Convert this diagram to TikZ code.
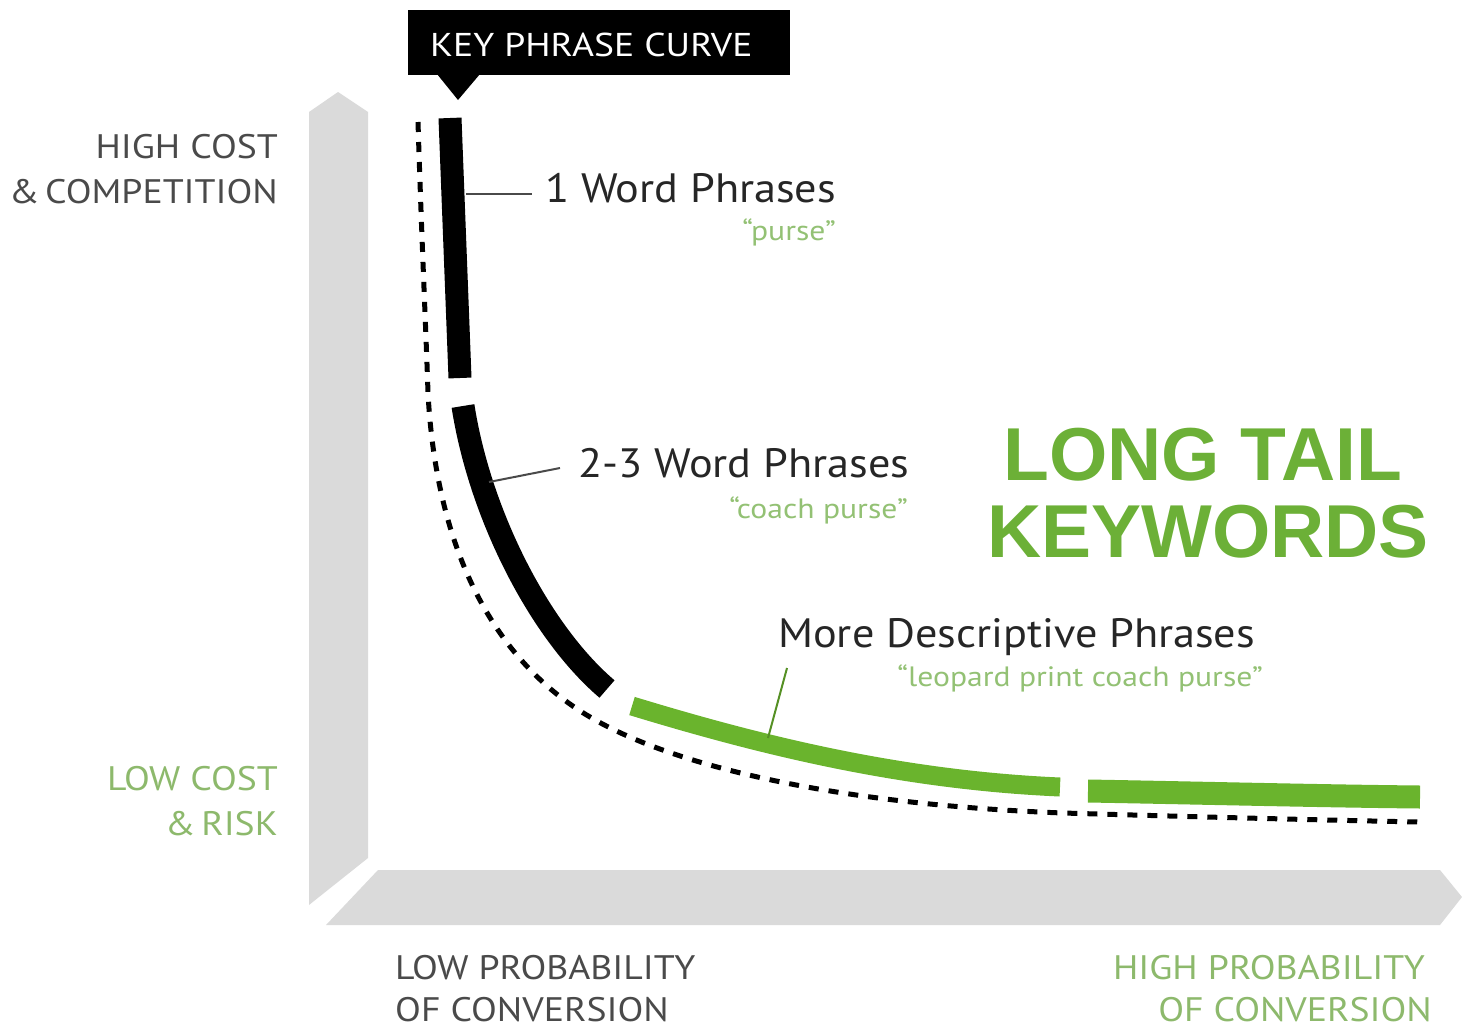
\documentclass[tikz,border=0pt]{standalone}
\usepackage{fontspec}
\setmainfont{PT Sans}
\newfontfamily\boldsans{Liberation Sans}
\newfontfamily\axisfont[FakeStretch=1.11]{PT Sans}
\newfontfamily\phrasefont[FakeStretch=1.08]{PT Sans}
\newfontfamily\titlefont[FakeStretch=1.14]{PT Sans}
\newfontfamily\examplefont[FakeStretch=1.13]{PT Sans}
\definecolor{barGray}{HTML}{DADADA}
\definecolor{txtGray}{HTML}{4A4A4A}
\definecolor{curveGreen}{HTML}{6AB42D}
\definecolor{titleGreen}{HTML}{6CB037}
\definecolor{softGreen}{HTML}{93C174}
\definecolor{axisGreen}{HTML}{8DB96C}
\tikzset{
  lbl/.style={inner sep=0pt, text=txtGray},
  axislbl/.style={lbl, font=\axisfont\fontsize{34}{36}\selectfont},
  phrase/.style={lbl, text=black!85, font=\phrasefont\fontsize{41}{44}\selectfont},
  example/.style={lbl, text=softGreen, font=\examplefont\fontsize{28}{30}\selectfont},
  thickseg/.style={line width=23pt, line cap=butt},
  dashcurve/.style={line width=5pt, dash pattern=on 10pt off 10pt},
  leader/.style={line width=2pt, draw=txtGray},
}
\begin{document}
\begin{tikzpicture}[x=1pt,y=-1pt]
\useasboundingbox (0,0) rectangle (1462,1028);
% axes bars
\fill[barGray] (309,112) -- (338,92) -- (368,112) -- (368,858) -- (309,905) -- cycle;
\fill[barGray] (378,870) -- (1440,870) -- (1462,897) -- (1440,925) -- (326,925) -- cycle;
% title box
\fill[black] (408,10) rectangle (790,75);
\fill[black] (437,74) -- (480,74) -- (458,100) -- cycle;
\node[lbl, text=white, anchor=base west, font=\titlefont\fontsize{33}{36}\selectfont] (title) at (430,56) {KEY PHRASE CURVE};
% dashed reference curve
\draw[dashcurve] (418,122) .. controls (422,250) and (426,330) .. (428,393)
  .. controls (438,580) and (515,673) .. (590,717)
  .. controls (680,770) and (850,805) .. (1063,813)
  .. controls (1200,817) and (1320,820) .. (1420,822);
% thick curve segments
\draw[thickseg, black] (450,118) -- (460,378);
\draw[thickseg, black] (463,406) .. controls (480,515) and (540,632) .. (607,689);
\draw[thickseg, curveGreen, line width=19pt] (632,706) .. controls (760,745) and (900,780) .. (1060,787);
\draw[thickseg, curveGreen, line width=23pt] (1088,791) .. controls (1200,793) and (1320,796) .. (1420,797);
% leader anchor points on the curve and at the labels
\coordinate (c1) at (466,194);
\coordinate (c2) at (489,482);
\coordinate (c3) at (768,738);
\coordinate (t1) at (532,194);
\coordinate (t2) at (560,468);
\coordinate (t3) at (787,668);
% labels
\node[phrase, anchor=base west] (p1) at (545,202) {1 Word Phrases};
\node[example, anchor=base east] (e1) at (836,240) {“purse”};
\node[phrase, anchor=base west] (p2) at (578,477) {2-3 Word Phrases};
\node[example, anchor=base east] (e2) at (908,518) {“coach purse”};
\node[phrase, anchor=base west] (p3) at (778,647) {More Descriptive Phrases};
\node[example, anchor=base east] (e3) at (1263,686) {“leopard print coach purse”};
\draw[leader] (c1) -- (t1);
\draw[leader] (c2) -- (t2);
\draw[leader, draw=curveGreen!80!black] (c3) -- (t3);
% long tail
\node[inner sep=0pt, text=titleGreen, anchor=base west, font=\boldsans\bfseries\fontsize{75}{78}\selectfont] (lt1) at (1003,480) {LONG TAIL};
\node[inner sep=0pt, text=titleGreen, anchor=base west, font=\boldsans\bfseries\fontsize{75}{78}\selectfont] (lt2) at (987,557) {KEYWORDS};
% axis labels
\node[axislbl, anchor=base east] (hc1) at (278,158) {HIGH COST};
\node[axislbl, anchor=base east] (hc2) at (278,203) {\&\,COMPETITION};
\node[axislbl, text=axisGreen, anchor=base east] (lc1) at (278,790) {LOW COST};
\node[axislbl, text=axisGreen, anchor=base east] (lc2) at (278,835) {\&\,RISK};
\node[axislbl, anchor=base west] (lp1) at (395,979) {LOW PROBABILITY};
\node[axislbl, anchor=base west, text depth=0pt] (lp2) at (395,1021) {OF CONVERSION};
\node[axislbl, text=axisGreen, anchor=base east] (hp1) at (1425,979) {HIGH PROBABILITY};
\node[axislbl, text=axisGreen, anchor=base east, text depth=0pt] (hp2) at (1432,1021) {OF CONVERSION};
\end{tikzpicture}
\end{document}
